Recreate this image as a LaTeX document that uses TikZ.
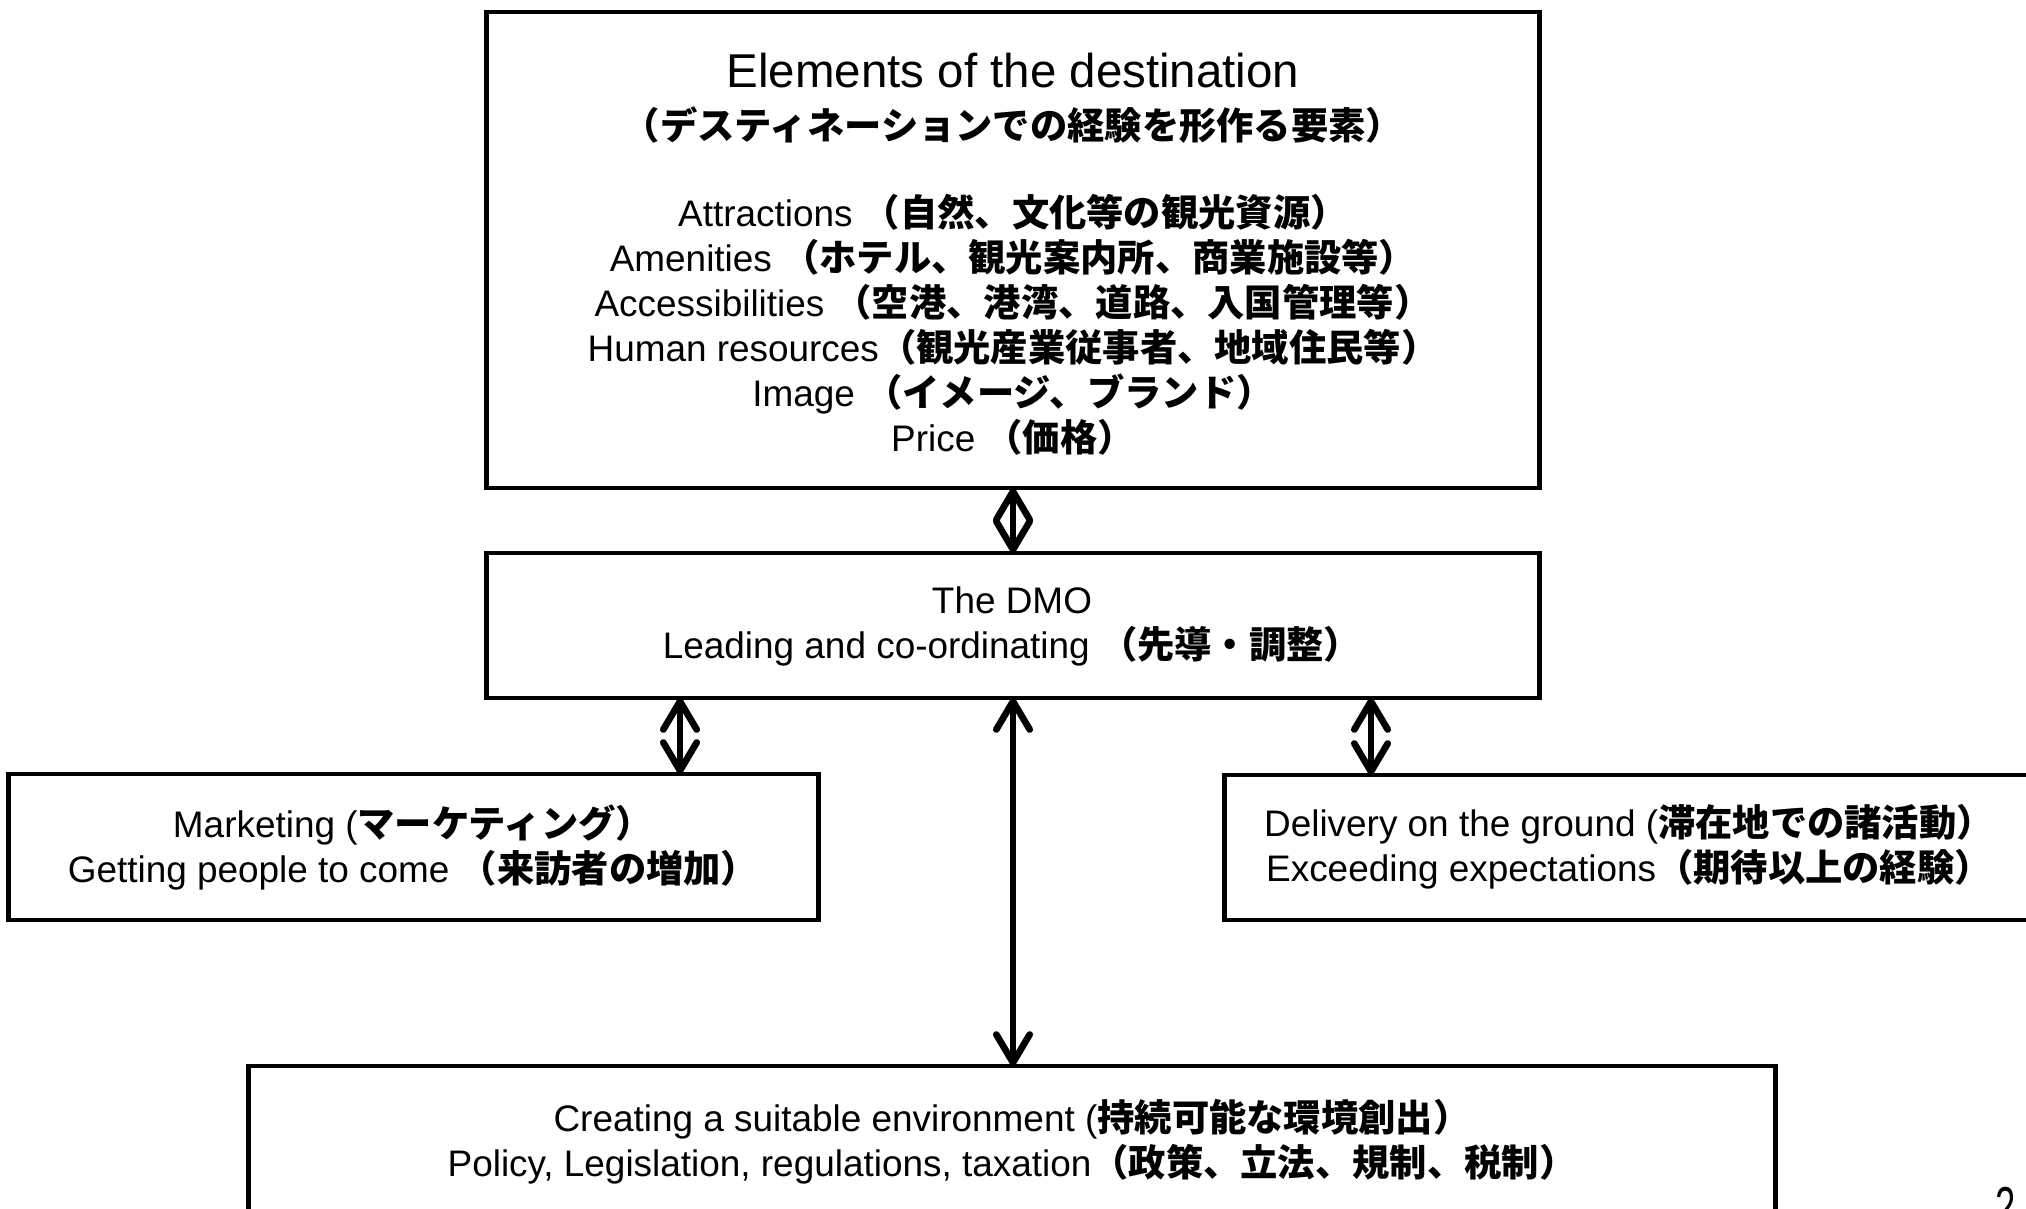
\documentclass[tikz,border=0pt]{standalone}
\usepackage{fontspec}
\setmainfont{Liberation Sans}
\newfontfamily\cjk{Noto Sans CJK JP}[Scale=1.01]
\usetikzlibrary{arrows.meta}
\newcommand\jpb[1]{{\cjk\bfseries #1}}
\begin{document}
\begin{tikzpicture}[x=0.01cm, y=-0.01cm,
  box/.style={draw, line width=1.3pt, inner sep=0pt, outer sep=0pt},
  txt/.style={align=center, inner sep=0pt, font=\fontsize{10.5}{12.8}\selectfont},
  tip/.tip={Straight Barb[length=8pt,width=9.5pt,round]},
  dbl/.style={line width=1.9pt, tip-tip}]
\useasboundingbox (0,0) rectangle (2026,1209);
\clip (0,0) rectangle (2026,1209);
% boxes
\node[box, minimum width=10.52cm, minimum height=4.76cm] (elem) at (1013,250) {};
\node[box, minimum width=10.52cm, minimum height=1.45cm] (dmo) at (1013,625.5) {};
\node[box, minimum width=8.09cm, minimum height=1.46cm] (mkt) at (413.5,847) {};
\node[box, minimum width=8.35cm, minimum height=1.45cm] (del) at (1642.5,847.5) {};
\node[box, minimum width=15.26cm, minimum height=1.51cm] (env) at (1012,1141.5) {};
% texts
\node[txt, font=\fontsize{13.5}{16}\selectfont] (title) at (1013,71) {Elements of the destination};
\node[txt] (sub) at (1013,125) {\jpb{（デスティネーションでの経験を形作る要素）}};
\node[txt] (list) at (1013,324.5) {Attractions \jpb{（自然、文化等の観光資源）}\\
Amenities \jpb{（ホテル、観光案内所、商業施設等）}\\
Accessibilities \jpb{（空港、港湾、道路、入国管理等）}\\
Human resources\jpb{（観光産業従事者、地域住民等）}\\
Image \jpb{（イメージ、ブランド）}\\
Price \jpb{（価格）}};
\node[txt] (dmot) at (1012,626) {The DMO\\Leading and co-ordinating \jpb{（先導・調整）}};
\node[txt] (mktt) at (413,847) {Marketing (\jpb{マーケティング）}\\Getting people to come \jpb{（来訪者の増加）}};
\node[txt] (delt) at (1629,847) {Delivery on the ground (\jpb{滞在地での諸活動）}\\Exceeding expectations\jpb{（期待以上の経験）}};
\node[txt] (envt) at (1012,1141.5) {Creating a suitable environment (\jpb{持続可能な環境創出）}\\Policy, Legislation, regulations, taxation\jpb{（政策、立法、規制、税制）}};
\node[inner sep=0pt, anchor=north, font=\fontsize{16}{16}\selectfont, xscale=0.65] (pg) at (2006,1187) {2};
% connectors
\draw[dbl] (elem.south) -- (dmo.north);
\draw[dbl] (dmo.south -| 680,0) -- (mkt.north -| 680,0);
\draw[dbl] (dmo.south -| 1371,0) -- (del.north -| 1371,0);
\draw[dbl] (dmo.south) -- (env.north -| dmo.south);
\end{tikzpicture}
\end{document}
